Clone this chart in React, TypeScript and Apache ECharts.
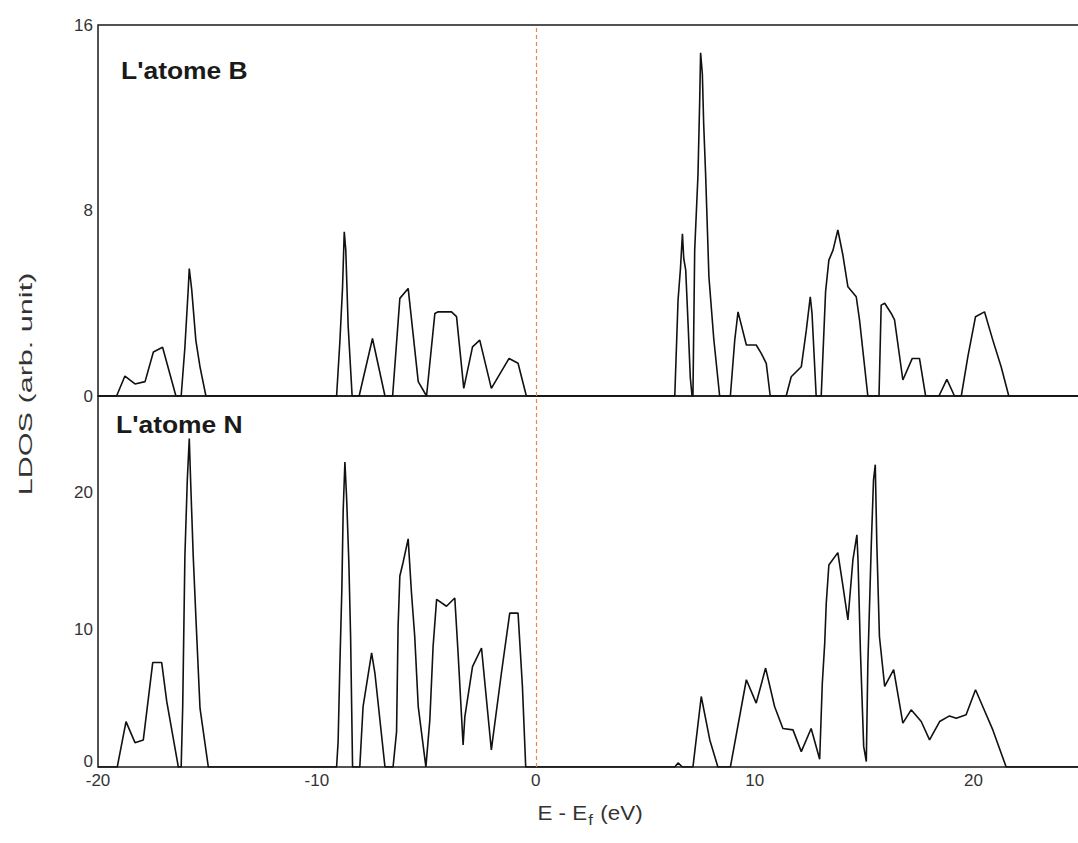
import React, { useEffect, useRef } from "react";
import * as echarts from "echarts";

// Energies (eV, E - Ef) and LDOS values for atom B
const energyB = [
  -20, -19.15, -18.77, -18.31, -17.85, -17.47, -17.05, -16.44, -16.2, -16.03, -15.88, -15.83, -15.72, -15.53, -15.34, -15.07,
  -9.1, -8.95, -8.83, -8.75, -8.68, -8.57, -8.39, -8.07, -7.46, -6.89, -6.54, -6.21, -5.83, -5.37, -4.99, -4.61, -4.46,
  -3.85, -3.62, -3.29, -2.89, -2.56, -2.03, -1.22, -0.81, -0.43,
  6.35, 6.5, 6.61, 6.7, 6.76, 6.85, 6.96, 7.06, 7.14, 7.18, 7.26, 7.41, 7.49, 7.53, 7.61, 7.67, 7.76, 7.91, 8.13, 8.4,
  8.89, 9.09, 9.24, 9.62, 10.07, 10.3, 10.53, 10.71, 11.44, 11.67, 12.13, 12.36, 12.54, 12.62, 12.81, 13.04, 13.24, 13.39,
  13.58, 13.8, 14.03, 14.26, 14.64, 14.79, 15.17, 15.68, 15.78, 15.94, 16.24, 16.39, 16.77, 17.2, 17.53, 17.81, 18.42,
  18.78, 19.13, 19.44, 19.74, 20.09, 20.5, 20.88, 21.26, 21.61, 25,
];
const dosB = [
  0, 0, 0.86, 0.52, 0.62, 1.9, 2.1, 0, 0, 2.1, 4.57, 5.5, 4.6, 2.4, 1.26, 0,
  0, 2.34, 4.64, 7.08, 6.29, 2.99, 0, 0, 2.48, 0, 0, 4.21, 4.64, 0.62, 0, 3.56, 3.63,
  3.63, 3.42, 0.33, 2.12, 2.41, 0.33, 1.62, 1.41, 0,
  0, 4.14, 5.5, 7.0, 5.93, 5.43, 3.06, 0.78, 0, 0, 6.29, 9.53, 12.8, 14.8, 13.9, 11.75, 9.53, 5.14, 2.48, 0,
  0, 2.41, 3.63, 2.2, 2.2, 1.84, 1.41, 0, 0, 0.83, 1.26, 2.84, 4.28, 3.56, 0, 0, 4.5, 5.86,
  6.29, 7.16, 6.08, 4.71, 4.28, 3.28, 0, 0, 3.92, 4.0, 3.56, 3.28, 0.69, 1.62, 1.62, 0, 0,
  0.72, 0, 0, 1.7, 3.42, 3.63, 2.41, 1.26, 0, 0,
];

// Energies (eV) and LDOS values for atom N
const energyN = [
  -20, -19.12, -18.72, -18.31, -17.93, -17.5, -17.09, -16.86, -16.33, -16.2, -16.13, -16.03, -15.92, -15.83, -15.77, -15.65,
  -15.53, -15.34, -14.96,
  -9.1, -9.03, -8.95, -8.86, -8.8, -8.72, -8.64, -8.54, -8.46, -8.37, -8.04, -7.89, -7.5, -7.35, -6.89, -6.52, -6.36,
  -6.29, -6.21, -6.06, -5.83, -5.68, -5.53, -5.37, -5.02, -4.84, -4.69, -4.53, -4.08, -3.7, -3.55, -3.32, -3.24, -2.89,
  -2.48, -2.03, -1.57, -1.19, -0.81, -0.61, -0.46,
  6.35, 6.5, 6.7, 7.18, 7.56, 7.95, 8.32, 8.89, 9.62, 10.07, 10.5, 10.91, 11.29, 11.75, 12.13, 12.58, 12.97, 13.09, 13.2,
  13.27, 13.39, 13.8, 14.03, 14.26, 14.49, 14.67, 14.72, 14.83, 14.98, 15.1, 15.17, 15.33, 15.43, 15.51, 15.58, 15.7,
  15.94, 16.35, 16.77, 17.15, 17.61, 17.99, 18.45, 18.9, 19.21, 19.66, 20.09, 20.42, 20.88, 21.49, 25,
];
const dosN = [
  0, 0, 3.3, 1.77, 1.97, 7.6, 7.6, 4.77, 0, 0, 4.4, 15.35, 20.9, 23.9, 20.9, 15.35,
  10.97, 4.28, 0,
  0, 1.85, 7.45, 12.9, 18.6, 22.2, 19.5, 14.9, 9.5, 0, 0, 4.4, 8.3, 6.84, 0, 0, 2.58,
  10.24, 13.9, 14.9, 16.6, 12.7, 9.5, 4.4, 0, 3.43, 8.8, 12.2, 11.7, 12.3, 8.3, 1.6, 3.67, 7.3,
  8.66, 1.24, 6.84, 11.2, 11.2, 5.86, 0,
  0, 0.3, 0, 0, 5.13, 1.97, 0, 0, 6.35, 4.65, 7.2, 4.4, 2.8, 2.7, 1.12, 2.8, 0.56, 6.1, 9.0,
  11.9, 14.7, 15.6, 13.2, 10.7, 15.1, 16.9, 15.1, 8.5, 1.5, 0.4, 7.45, 16.3, 20.9, 22.0, 16.3, 9.5,
  5.86, 7.08, 3.19, 4.16, 3.31, 1.97, 3.31, 3.72, 3.55, 3.8, 5.62, 4.4, 2.7, 0, 0,
];

const xTicks = [-20, -10, 0, 10, 20];
const yTicksB = [0, 8, 16];
const yTicksN = [0, 10, 20];
const labelB = "L'atome B";
const labelN = "L'atome N";
const yName = "LDOS (arb. unit)";

const FONT = "'Liberation Sans', Arial, sans-serif";

export default function App() {
  const ref = useRef<HTMLDivElement>(null);
  useEffect(() => {
    if (!ref.current) return;
    const chart = echarts.init(ref.current, null, { renderer: "svg" });
    const pairsB = energyB.map((e, i) => [e, dosB[i]]);
    const pairsN = energyN.map((e, i) => [e, dosN[i]]);
    const gridBase = {
      left: 98,
      width: 985,
      height: 371,
      show: true,
      borderColor: "#1a1a1a",
      borderWidth: 1.5,
      backgroundColor: "transparent",
      containLabel: false,
      outerBoundsMode: "none",
    };
    const yLabel = (ticks: number[], liftZero: boolean) => ({
      show: true,
      margin: 5,
      fontSize: 17,
      color: "#333",
      fontFamily: FONT,
      formatter: (v: number) => {
        if (!ticks.includes(v)) return "";
        if (liftZero && v === 0) return "{z|0}";
        return String(v);
      },
      rich: {
        z: { fontSize: 17, color: "#333", fontFamily: FONT, padding: [0, 0, 12, 0] },
      },
    });
    const fermi = {
      silent: true,
      symbol: ["none", "none"],
      label: { show: false },
      lineStyle: { type: [4, 3], color: "#E8874A", width: 1.2 },
      data: [{ xAxis: 0 }],
    };
    chart.setOption({
      animation: false,
      backgroundColor: "#ffffff",
      grid: [
        { ...gridBase, top: 25 },
        { ...gridBase, top: 396 },
      ],
      xAxis: [
        {
          type: "value",
          gridIndex: 0,
          min: -20,
          max: 25,
          interval: 10,
          axisLine: { show: false },
          axisTick: { show: false },
          splitLine: { show: false },
          axisLabel: { show: false },
        },
        {
          type: "value",
          gridIndex: 1,
          min: -20,
          max: 25,
          interval: 10,
          axisLine: { show: false },
          axisTick: { show: false },
          splitLine: { show: false },
          axisLabel: {
            show: true,
            margin: 5,
            fontSize: 17,
            color: "#333",
            fontFamily: FONT,
            showMaxLabel: false,
            formatter: (v: number) => (xTicks.includes(v) ? String(v) : ""),
          },
        },
      ],
      yAxis: [
        {
          type: "value",
          gridIndex: 0,
          min: 0,
          max: 16,
          interval: 8,
          axisLine: { show: false },
          axisTick: { show: false },
          splitLine: { show: false },
          axisLabel: yLabel(yTicksB, false),
        },
        {
          type: "value",
          gridIndex: 1,
          min: 0,
          max: 27,
          interval: 10,
          axisLine: { show: false },
          axisTick: { show: false },
          splitLine: { show: false },
          axisLabel: { ...yLabel(yTicksN, true), showMaxLabel: false },
        },
      ],
      series: [
        {
          name: labelB,
          type: "line",
          xAxisIndex: 0,
          yAxisIndex: 0,
          data: pairsB,
          showSymbol: false,
          lineStyle: { color: "#111", width: 1.6 },
          markLine: fermi,
        },
        {
          name: labelN,
          type: "line",
          xAxisIndex: 1,
          yAxisIndex: 1,
          data: pairsN,
          showSymbol: false,
          lineStyle: { color: "#111", width: 1.6 },
          markLine: fermi,
        },
      ],
      graphic: [
        {
          type: "text",
          x: 121,
          y: 71,
          scaleX: 1.15,
          style: {
            text: labelB,
            font: `bold 23px ${FONT}`,
            fill: "#1a1a1a",
            textAlign: "left",
            textVerticalAlign: "middle",
          },
        },
        {
          type: "text",
          x: 116,
          y: 425,
          scaleX: 1.15,
          style: {
            text: labelN,
            font: `bold 23px ${FONT}`,
            fill: "#1a1a1a",
            textAlign: "left",
            textVerticalAlign: "middle",
          },
        },
        {
          type: "text",
          x: 26,
          y: 384,
          rotation: Math.PI / 2,
          scaleX: 1.7,
          style: {
            text: yName,
            font: `18px ${FONT}`,
            fill: "#333",
            textAlign: "center",
            textVerticalAlign: "middle",
          },
        },
        {
          type: "text",
          x: 590,
          y: 813,
          scaleX: 1.12,
          style: {
            text: "{a|E - E}{b|f}{a| (eV)}",
            fill: "#333",
            textAlign: "center",
            textVerticalAlign: "middle",
            rich: {
              a: { fontSize: 20, fontFamily: FONT, fill: "#333", lineHeight: 22 },
              b: { fontSize: 15, fontFamily: FONT, fill: "#333", lineHeight: 22, padding: [14, 1, 0, 1] },
            },
          },
        },
      ],
    });
    return () => chart.dispose();
  }, []);
  return (
    <div
      ref={ref}
      style={{ position: "absolute", left: 0, top: 0, width: 1078, height: 843 }}
    />
  );
}
